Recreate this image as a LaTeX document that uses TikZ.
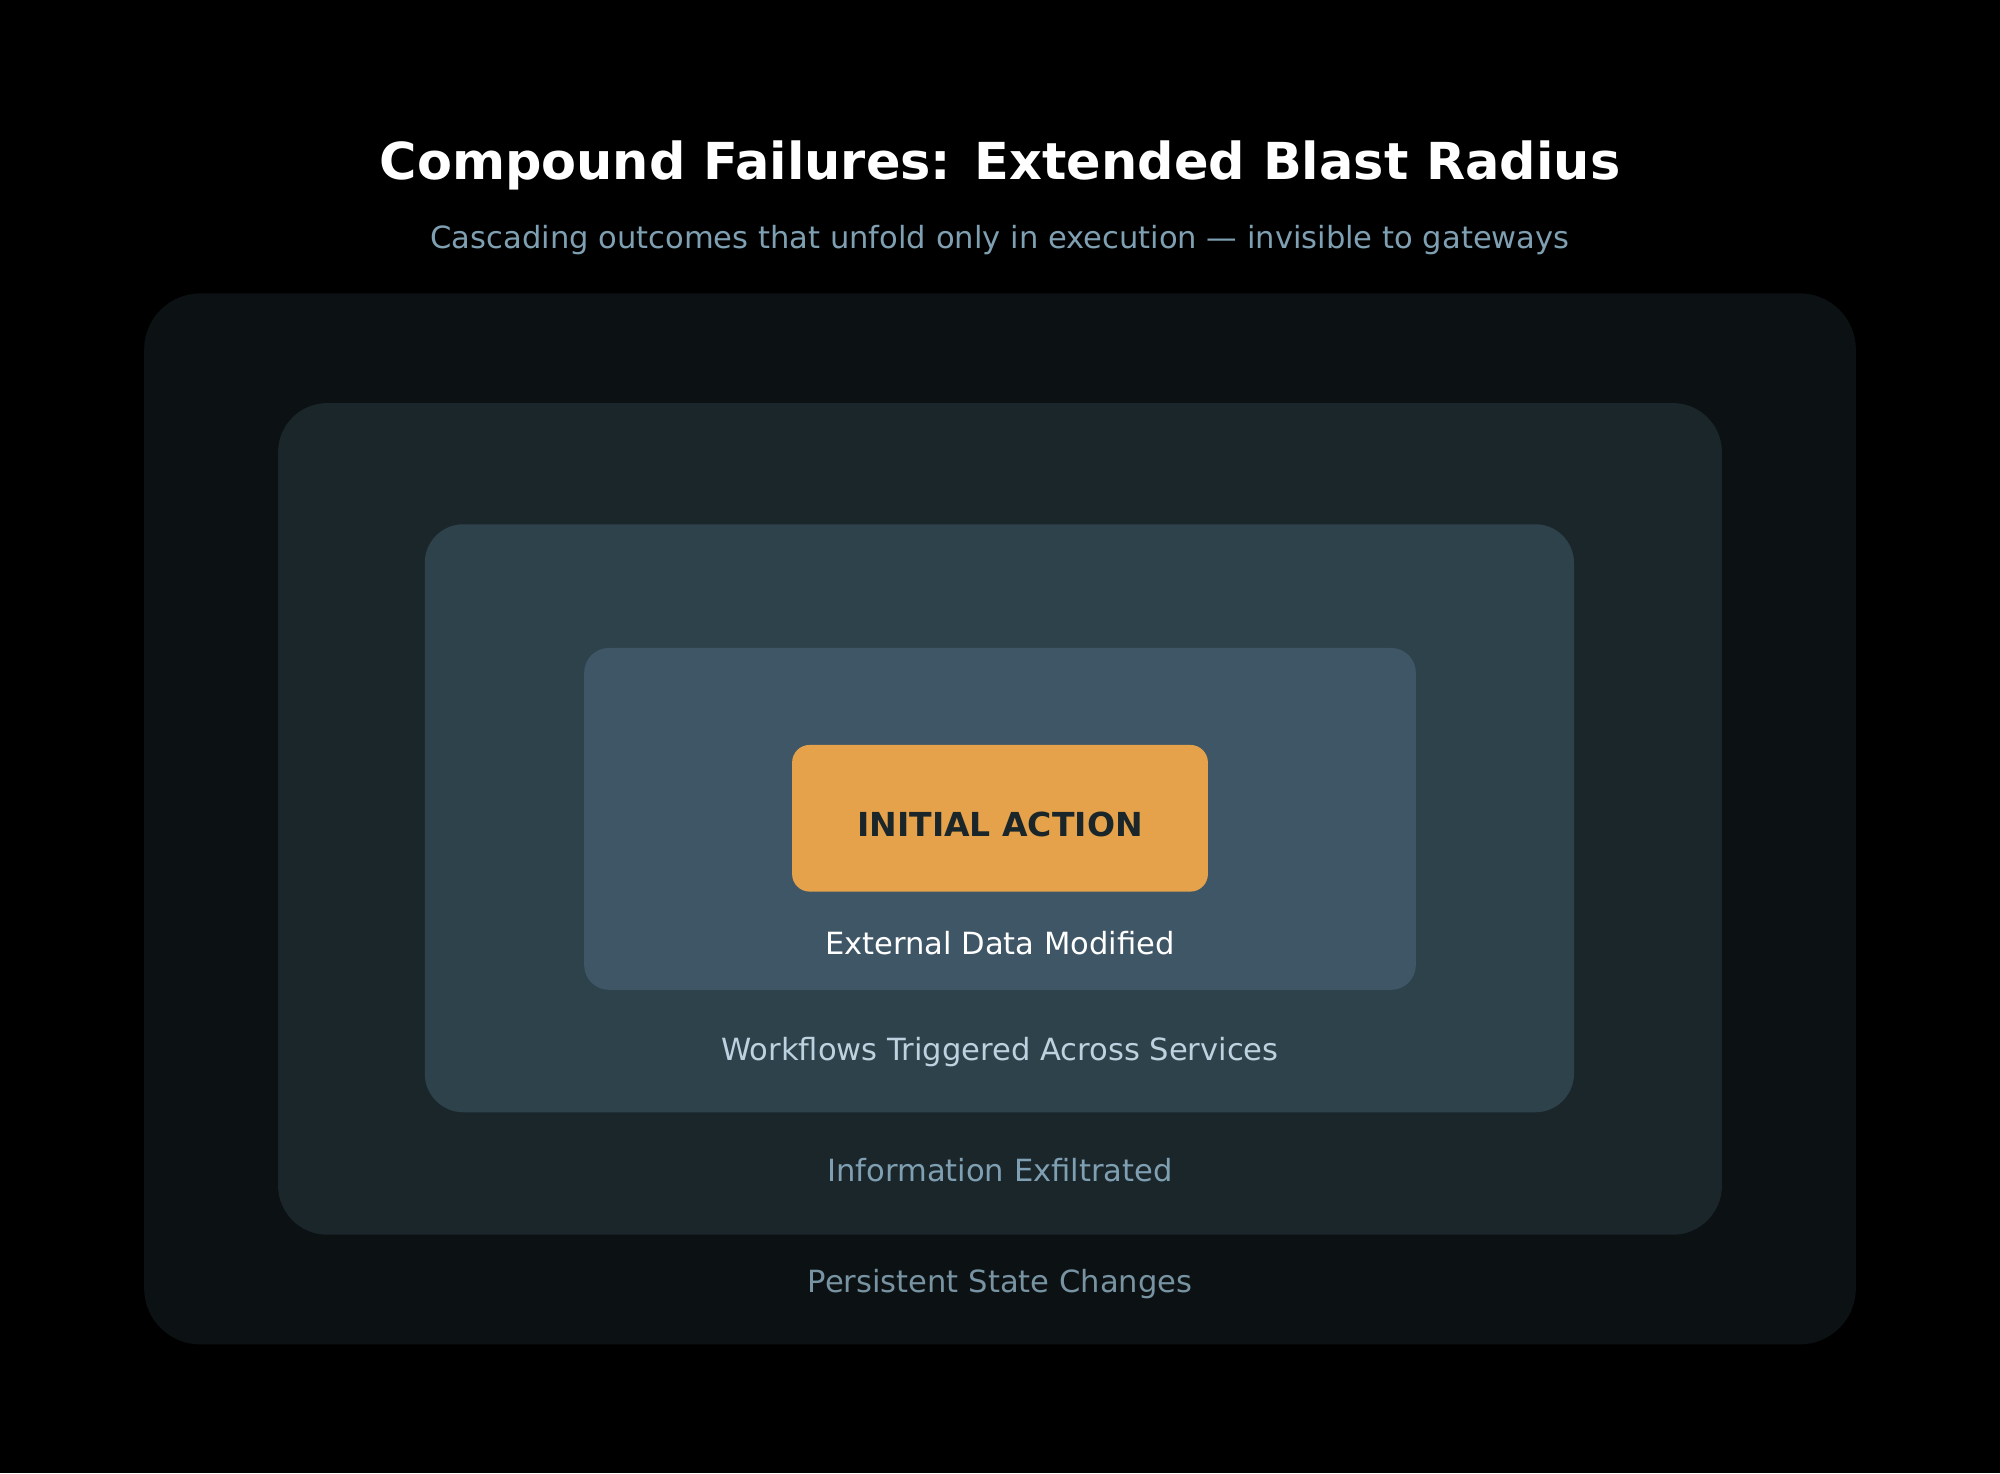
\documentclass[tikz,border=0pt]{standalone}
\usepackage{fontspec}
\setmainfont{DejaVu Sans}
\definecolor{l1}{HTML}{0C1114}
\definecolor{l2}{HTML}{1B262B}
\definecolor{l3}{HTML}{2E424C}
\definecolor{l4}{HTML}{3F5666}
\definecolor{orng}{HTML}{E5A24B}
\definecolor{dk}{HTML}{1B262B}
\definecolor{sub}{HTML}{7FA0B2}
\definecolor{t3}{HTML}{BCD2DE}
\definecolor{t1}{HTML}{7893A2}
\tikzset{lbl/.style={font=\fontsize{8.7pt}{10pt}\selectfont}}
\begin{document}
\begin{tikzpicture}[x=0.012755cm,y=-0.012755cm]
\fill[black] (0,0) rectangle (1568,1155);
\useasboundingbox (0,0) rectangle (1568,1155);
\node[text=white,font=\bfseries\fontsize{14.5pt}{17pt}\selectfont] (title) at (784,130) {Compound Failures: Extended Blast Radius};
\node[text=sub,font=\fontsize{8.7pt}{10pt}\selectfont] (subtitle) at (784,188) {Cascading outcomes that unfold only in execution — invisible to gateways};
\fill[l1,rounded corners=16pt] (113,230) rectangle (1455,1054);
\fill[l2,rounded corners=14pt] (218,316) rectangle (1350,968);
\fill[l3,rounded corners=11pt] (333,411) rectangle (1234,872);
\fill[l4,rounded corners=7pt] (458,508) rectangle (1110,776);
\fill[orng,rounded corners=5pt] (621,584) rectangle (947,699);
\node[text=dk,font=\bfseries\fontsize{9.4pt}{11pt}\selectfont] (init) at (784,646) {INITIAL ACTION};
\node[lbl,text=white] (ext) at (784,739) {External Data Modified};
\node[lbl,text=t3] (wf) at (784,825) {Workflows Triggered Across Services};
\node[lbl,text=sub] (inf) at (784,917) {Information Exfiltrated};
\node[lbl,text=t1] (per) at (784,1007) {Persistent State Changes};
\end{tikzpicture}
\end{document}
